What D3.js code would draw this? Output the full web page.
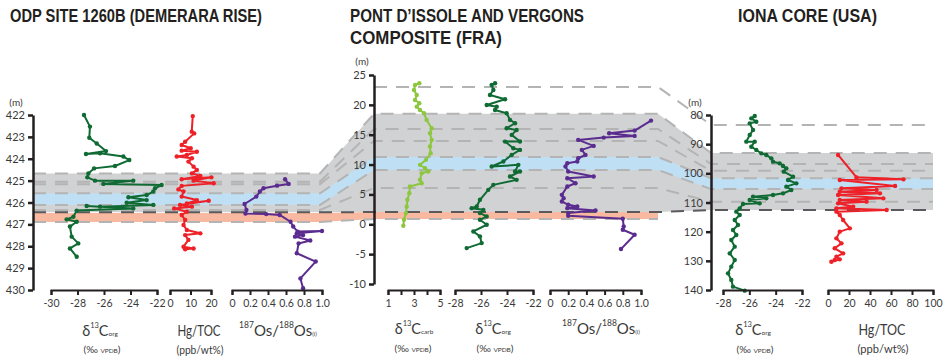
<!DOCTYPE html>
<html>
<head>
<meta charset="utf-8">
<script src="https://cdn.jsdelivr.net/npm/d3@7"></script>
<style>
  body { margin: 0; background: #fff; }
  .title { font-family: "Liberation Sans", Arial, sans-serif; font-weight: bold; font-size: 17.5px; fill: #231f20; }
  .tick text { font-family: Lato, "Open Sans", sans-serif; font-size: 10.5px; fill: #3a3a3a; }
  .ytick .tick text { font-size: 11px; }
  .axlab { font-family: Lato, "Open Sans", sans-serif; fill: #3a3a3a; }
</style>
</head>
<body>
<svg id="chart"></svg>
<script>
// ---- DATA: [value, depth] ----
// ODP site 1260B (depth in m)
var odpC13 = [[-27.51,422.0],[-27.06,422.53],[-27.11,423.04],[-26.55,423.3],[-25.85,423.65],[-27.36,423.78],
  [-26.3,423.75],[-24.54,423.9],[-24.09,424.06],[-25.17,424.33],[-26.75,424.44],[-27.18,424.67],[-27.26,424.85],
  [-26.68,425.0],[-23.79,425.0],[-26.05,425.15],[-21.65,425.2],[-22.15,425.35],[-22.28,425.5],[-22.78,425.66],
  [-24.16,425.76],[-22.78,425.89],[-24.29,426.01],[-22.28,426.11],[-26.3,426.19],[-27.31,426.16],[-23.79,426.27],
  [-28.06,426.37],[-28.31,426.65],[-28.82,426.77],[-28.06,426.88],[-28.57,427.1],[-28.44,427.56],[-27.94,427.87],
  [-28.57,428.1],[-28.06,428.48]];
var odpHg = [[11.1,422.05],[10.6,422.76],[11.8,422.84],[7.4,423.22],[5.7,423.37],[10.1,423.52],[5.7,423.63],
  [13.1,423.68],[8.2,423.83],[3.3,423.9],[10.7,423.98],[9.0,424.13],[11.5,424.36],[13.1,424.51],[10.7,424.67],
  [14.8,424.79],[5.7,424.94],[20.2,424.85],[11.5,425.0],[21.3,425.12],[5.7,425.24],[4.1,425.4],[6.6,425.5],
  [5.7,425.73],[13.1,425.89],[8.2,426.04],[18.9,425.92],[4.9,426.11],[10.7,426.19],[2.0,426.27],[8.2,426.42],
  [5.7,426.57],[7.4,426.8],[6.6,427.03],[8.2,427.26],[14.8,427.41],[7.4,427.49],[9.0,427.71],[6.6,428.02],
  [11.5,428.1],[7.4,428.14]];
var odpOs = [[0.59,424.94],[0.63,425.15],[0.5,425.23],[0.35,425.35],[0.31,425.5],[0.27,425.73],[0.14,426.07],
  [0.16,426.34],[0.15,426.5],[0.38,426.53],[0.53,426.57],[0.65,426.88],[0.68,427.1],[0.73,427.33],[1.0,427.3],
  [0.72,427.41],[0.79,427.49],[0.7,427.56],[0.87,427.74],[0.74,427.87],[0.72,428.32],[0.93,428.7],[0.76,429.47],
  [0.79,429.92]];

// Pont d'Issole and Vergons composite (depth in m)
var fraC13carb = [[3.41,23.61],[3.08,23.33],[3.0,22.49],[3.21,21.66],[3.08,20.82],[3.41,20.26],[3.21,19.7],
  [3.46,19.15],[3.77,18.59],[3.97,17.48],[4.36,16.08],[4.23,15.25],[4.36,14.13],[4.23,13.02],[4.28,11.9],
  [3.92,10.79],[3.46,9.95],[3.85,9.39],[4.1,8.84],[3.59,8.56],[3.46,7.44],[3.59,6.88],[2.69,6.33],[2.64,5.21],
  [2.49,4.1],[2.44,2.98],[2.38,1.87],[2.23,0.75],[2.18,-0.25]];
var fraC13org = [[-24.92,23.61],[-25.18,23.33],[-25.05,22.49],[-25.31,21.66],[-24.15,20.93],[-25.56,19.98],
  [-24.79,19.7],[-24.92,19.15],[-24.03,18.59],[-23.77,17.48],[-23.38,16.92],[-24.03,16.08],[-23.26,15.8],
  [-23.64,14.97],[-23.0,13.87],[-24.15,13.85],[-23.51,12.74],[-23.0,12.46],[-23.64,11.62],[-24.28,10.51],
  [-25.18,9.67],[-23.13,9.95],[-23.38,8.84],[-23.0,8.84],[-23.77,8.0],[-23.26,7.44],[-25.05,6.6],[-25.44,5.77],
  [-26.08,4.1],[-26.33,2.98],[-26.72,2.7],[-25.82,2.42],[-26.08,1.87],[-25.56,1.31],[-26.08,0.75],[-25.56,-0.08],
  [-26.59,-1.2],[-26.08,-2.03],[-25.95,-3.15],[-27.1,-3.99]];
var fraOs = [[1.11,17.36],[0.93,15.69],[0.65,15.25],[0.93,14.8],[0.59,14.52],[0.31,14.13],[0.48,13.13],
  [0.35,12.46],[0.39,11.62],[0.31,11.06],[0.3,10.51],[0.19,10.23],[0.17,9.67],[0.2,8.84],[0.48,8.0],[0.19,7.72],
  [0.28,6.88],[0.19,6.33],[0.13,4.93],[0.15,4.38],[0.13,3.82],[0.2,3.26],[0.3,2.98],[0.19,2.7],[0.5,2.31],
  [0.2,1.87],[0.2,1.42],[0.8,0.92],[0.81,-0.36],[0.8,-0.92],[0.93,-1.76],[0.78,-4.15]];

// Iona core (depth in m)
var ionaC13 = [[-25.59,80.34],[-25.85,81.14],[-25.47,82.29],[-25.97,82.86],[-25.72,85.14],[-25.97,86.86],
  [-26.23,89.14],[-25.59,89.14],[-25.85,90.86],[-25.47,92.0],[-25.09,93.14],[-24.71,93.71],[-24.33,94.86],
  [-24.2,96.0],[-23.7,96.57],[-23.44,97.49],[-23.19,98.29],[-23.39,99.43],[-22.68,101.14],[-23.06,102.29],
  [-22.43,103.43],[-23.19,104.57],[-22.81,105.71],[-23.44,106.86],[-24.2,107.43],[-25.72,108.0],[-24.71,108.57],
  [-25.97,109.14],[-25.22,110.29],[-26.48,110.51],[-26.73,112.0],[-26.99,113.14],[-26.73,114.29],[-27.11,116.0],
  [-26.86,117.71],[-27.24,119.43],[-26.99,121.14],[-27.37,122.86],[-27.11,125.14],[-27.49,127.43],[-27.11,129.71],
  [-27.37,132.0],[-27.62,134.29],[-27.37,136.57],[-27.24,138.86],[-26.35,140.23]];
var ionaHg = [[9.6,93.71],[27.2,101.37],[71.9,102.06],[11.2,102.29],[63.9,104.34],[12.8,105.14],[46.3,105.71],
  [11.2,106.29],[49.5,106.86],[9.6,107.43],[52.7,108.57],[11.2,109.14],[36.7,109.71],[9.6,110.29],[24.0,111.43],
  [8.0,112.0],[55.9,112.57],[8.0,113.14],[11.2,114.29],[14.4,116.0],[20.8,118.86],[11.2,120.0],[8.0,122.29],
  [12.8,124.0],[6.4,125.71],[14.4,127.43],[8.0,128.57],[11.2,129.49],[3.2,130.29],[6.4,129.71]];

// correlation horizons: depth in [ODP, FRA, Iona] (null = absent)
var grayTop = [424.67, 18.5, 93.0], grayBottom = [426.45, 2.05, 112.6];
var blueTop = [425.58, 11.27, 101.7], blueBottom = [426.11, 9.1, 105.4];
var salmonTop = [426.48, 2.05, null], salmonBottom = [426.89, 0.88, null];
var dashHorizons = [[null, 23, 83.4], [424.67, 18.5, 93.0], [425.05, 15.96, 96.8], [425.17, 13.95, 99.1],
  [425.58, 11.27, 101.7], [426.11, 9.1, 105.4], [426.34, 6.07, 109.7], [426.89, 0.88, null]];
var darkHorizon = [426.45, 2.05, 112.6];

var odpDepthTicks = [422, 423, 424, 425, 426, 427, 428, 429, 430];
var fraDepthTicks = [25, 20, 15, 10, 5, 0, -5, -10];
var ionaDepthTicks = [80, 90, 100, 110, 120, 130, 140];

var width = 945, height = 360;
var svg = d3.select("#chart").attr("width", width).attr("height", height);

var cGreen = "#0f6b33", cRed = "#ee2028", cPurple = "#5b2c8f", cLight = "#8dc63f";

// SCALES
var yOdp = d3.scaleLinear().domain([422, 430]).range([115, 290]);
var yFra = d3.scaleLinear().domain([25, -10]).range([75, 284]);
var yIona = d3.scaleLinear().domain([80, 140]).range([115, 290]);
var yScales = [yOdp, yFra, yIona];
var bandX = [[33, 320], [374, 658], [711, 933]];

var xOdpC = d3.scaleLinear().domain([-30, -22]).range([51, 157]);
var xOdpHg = d3.scaleLinear().domain([0, 20]).range([170, 211]);
var xOdpOs = d3.scaleLinear().domain([0, 1]).range([232, 322]);
var xFraCarb = d3.scaleLinear().domain([1, 5]).range([388, 440]);
var xFraC = d3.scaleLinear().domain([-28, -22]).range([455, 533]);
var xFraOs = d3.scaleLinear().domain([0, 1]).range([550, 641]);
var xIonaC = d3.scaleLinear().domain([-28, -22]).range([723, 802]);
var xIonaHg = d3.scaleLinear().domain([0, 100]).range([828, 933]);

function horizonPoints(depths) {
  var pts = [];
  depths.forEach(function(d, i) {
    if (d == null) return;
    var y = yScales[i](d);
    pts.push([bandX[i][0], y], [bandX[i][1], y]);
  });
  return pts;
}

function band(top, bottom, color) {
  var pts = horizonPoints(top).concat(horizonPoints(bottom).reverse());
  svg.append("path").attr("d", "M" + pts.join("L") + "Z").attr("fill", color);
}

// BANDS
band(grayTop, grayBottom, "#d1d2d3");
band(blueTop, blueBottom, "#bfe0f4");
band(salmonTop, salmonBottom, "#f8b9a0");

dashHorizons.forEach(function(h) {
  svg.append("path").attr("d", d3.line()(horizonPoints(h)))
    .attr("fill", "none").attr("stroke", "#b4b4b4").attr("stroke-width", 2)
    .attr("stroke-dasharray", "13,9");
});
svg.append("path").attr("d", d3.line()(horizonPoints(darkHorizon)))
  .attr("fill", "none").attr("stroke", "#5a5a5c").attr("stroke-width", 2)
  .attr("stroke-dasharray", "13,9");

// SERIES
function drawSeries(data, xs, ys, color) {
  var line = d3.line().x(function(d) { return xs(d[0]); }).y(function(d) { return ys(d[1]); });
  svg.append("path").datum(data).attr("d", line)
    .attr("fill", "none").attr("stroke", color).attr("stroke-width", 2).attr("stroke-linejoin", "round");
  svg.append("g").selectAll("circle").data(data).enter().append("circle")
    .attr("cx", function(d) { return xs(d[0]); })
    .attr("cy", function(d) { return ys(d[1]); })
    .attr("r", 2.2).attr("fill", color);
}

drawSeries(odpC13, xOdpC, yOdp, cGreen);
drawSeries(odpHg, xOdpHg, yOdp, cRed);
drawSeries(odpOs, xOdpOs, yOdp, cPurple);
drawSeries(fraC13carb, xFraCarb, yFra, cLight);
drawSeries(fraC13org, xFraC, yFra, cGreen);
drawSeries(fraOs, xFraOs, yFra, cPurple);
drawSeries(ionaC13, xIonaC, yIona, cGreen);
drawSeries(ionaHg, xIonaHg, yIona, cRed);

// AXES
function styleAxis(g, w) {
  g.selectAll("path, line").attr("stroke", "#231f20").attr("stroke-width", w);
}
function yAxis(scale, x, ticks) {
  var g = svg.append("g").attr("class", "ytick").attr("transform", "translate(" + x + ",0)")
    .call(d3.axisLeft(scale).tickValues(ticks).tickSize(5).tickSizeOuter(0).tickPadding(3).tickFormat(String));
  styleAxis(g, 2.5);
}
function xAxis(scale, ticks, fmt) {
  var g = svg.append("g").attr("transform", "translate(0,290)")
    .call(d3.axisBottom(scale).tickValues(ticks).tickSize(5).tickSizeOuter(5).tickPadding(5).tickFormat(fmt || String));
  styleAxis(g, 2);
}
var osFmt = function(d) { return d === 0 ? "0" : d3.format(".1f")(d); };

yAxis(yOdp, 33, odpDepthTicks);
yAxis(yFra, 374, fraDepthTicks);
yAxis(yIona, 711, ionaDepthTicks);

xAxis(xOdpC, [-30, -28, -26, -24, -22]);
xAxis(xOdpHg, [0, 10, 20]);
xAxis(xOdpOs, [0, 0.2, 0.4, 0.6, 0.8, 1.0], osFmt);
xAxis(xFraCarb, [1, 2, 3, 4, 5], function(d) { return d % 2 ? String(d) : ""; });
xAxis(xFraC, [-28, -26, -24, -22]);
xAxis(xFraOs, [0, 0.2, 0.4, 0.6, 0.8, 1.0], osFmt);
xAxis(xIonaC, [-28, -26, -24, -22]);
xAxis(xIonaHg, [0, 20, 40, 60, 80, 100]);

// (m) unit labels
[[16, 106], [362, 65], [695, 106]].forEach(function(p) {
  svg.append("text").attr("class", "axlab").attr("x", p[0]).attr("y", p[1])
    .attr("text-anchor", "middle").attr("font-size", 10).text("(m)");
});

// TITLES
function title(x, y, s, len) {
  svg.append("text").attr("class", "title").attr("x", x).attr("y", y)
    .attr("textLength", len).attr("lengthAdjust", "spacingAndGlyphs").text(s);
}
title(10, 22, "ODP SITE 1260B (DEMERARA RISE)", 252);
title(350, 22, "PONT D\u2019ISSOLE AND VERGONS", 234);
title(350, 44, "COMPOSITE (FRA)", 152);
title(738, 22, "IONA CORE (USA)", 139);

// AXIS LABELS
function label(x, y) {
  return svg.append("text").attr("class", "axlab").attr("x", x).attr("y", y).attr("text-anchor", "middle");
}
function deltaLabel(x, y, sub) {
  var t = label(x, y);
  t.append("tspan").attr("font-size", 14.5).text("\u03b4");
  t.append("tspan").attr("font-size", 7.5).attr("dy", -8).text("13");
  t.append("tspan").attr("font-size", 14.5).attr("dy", 8).text("C");
  t.append("tspan").attr("font-size", 6.5).text(sub);
}
function vpdb(x, y) {
  var t = label(x, y);
  t.append("tspan").attr("font-size", 10).text("(\u2030 ");
  t.append("tspan").attr("font-size", 6.5).text("VPDB");
  t.append("tspan").attr("font-size", 10).text(")");
}
function hgLabel(x, y, len) {
  label(x, y).attr("font-size", 16).attr("textLength", len).attr("lengthAdjust", "spacingAndGlyphs")
    .text("Hg/TOC");
  label(x + 1, y + 18).attr("font-size", 12).attr("textLength", len + 4).attr("lengthAdjust", "spacingAndGlyphs")
    .text("(ppb/wt%)");
}
function osLabel(x, y) {
  var t = label(x, y);
  t.append("tspan").attr("font-size", 8.5).attr("dy", -8).text("187");
  t.append("tspan").attr("font-size", 15).attr("dy", 8).text("Os/");
  t.append("tspan").attr("font-size", 8.5).attr("dy", -8).text("188");
  t.append("tspan").attr("font-size", 15).attr("dy", 8).text("Os");
  t.append("tspan").attr("font-size", 6).text("(i)");
}

deltaLabel(100, 336, "org"); vpdb(102, 353);
hgLabel(199, 336, 43);
osLabel(278, 336);
deltaLabel(414, 334, "carb"); vpdb(413, 352);
deltaLabel(493, 334, "org"); vpdb(495, 352);
osLabel(601, 334);
deltaLabel(753, 335, "org"); vpdb(755, 353);
hgLabel(882, 335, 47);
</script>
</body>
</html>
